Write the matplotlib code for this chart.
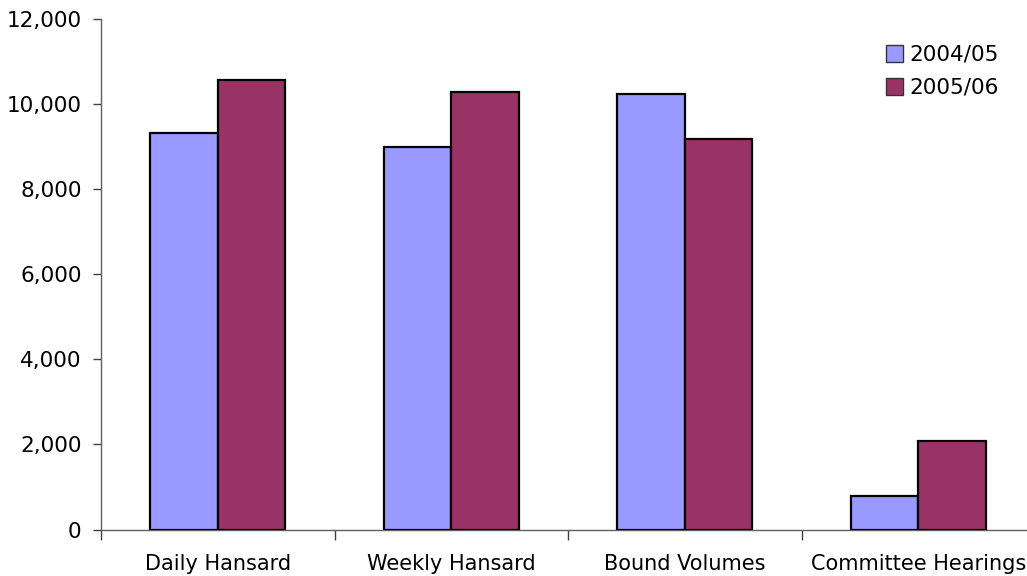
import matplotlib
matplotlib.use("Agg")
import matplotlib.pyplot as plt
import numpy as np
from matplotlib.ticker import FuncFormatter

categories = ["Daily Hansard", "Weekly Hansard", "Bound Volumes", "Committee Hearings"]
series_names = ["2004/05", "2005/06"]
values_2004_05 = [9320, 8980, 10220, 780]
values_2005_06 = [10570, 10285, 9175, 2070]
y_ticks = [0, 2000, 4000, 6000, 8000, 10000, 12000]

colors = ["#9999FF", "#993366"]

plt.rcParams["font.family"] = ["DejaVu Sans"]
W, H = 1027, 576
fig = plt.figure(figsize=(W / 100, H / 100), dpi=100)
ax = fig.add_axes([101 / W, 1 - 529.5 / H, 934 / W, (529.5 - 18.7) / H])

x = np.arange(len(categories))
bw = 0.289
for i, (vals, name, col) in enumerate(zip([values_2004_05, values_2005_06], series_names, colors)):
    ax.bar(x + (i - 0.5) * bw, vals, width=bw, color=col, edgecolor="black",
           linewidth=1.6, label=name, zorder=3)

ax.set_xlim(-0.5, len(categories) - 0.5)
ax.set_ylim(0, 12000)
ax.set_yticks(y_ticks)
ax.yaxis.set_major_formatter(FuncFormatter(lambda v, p: f"{int(v):,}"))

# category labels centred in each slot, tick marks on the slot boundaries
ax.set_xticks(x)
ax.set_xticklabels(categories, fontsize=15)
ax.set_xticks(np.arange(len(categories) + 1) - 0.5, minor=True)
ax.tick_params(axis="x", which="major", length=0, pad=18)
ax.tick_params(axis="x", which="minor", length=7, width=1, color="#404040", direction="out")
ax.tick_params(axis="y", length=6, width=1, color="#404040", direction="out", pad=8, labelsize=15.5)

for s in ["top", "right"]:
    ax.spines[s].set_visible(False)
for s in ["left", "bottom"]:
    ax.spines[s].set_color("#606060")
    ax.spines[s].set_linewidth(1)

leg = ax.legend(loc="upper left", bbox_to_anchor=(886 / W, 1 - 45 / H),
                bbox_transform=fig.transFigure, frameon=False, fontsize=15.5,
                handlelength=0.8, handleheight=0.8, handletextpad=0.3,
                labelspacing=0.6, borderpad=0, borderaxespad=0)
for p in leg.get_patches():
    p.set_linewidth(1.0)
    p.set_edgecolor("#333333")

fig.savefig("out.png", dpi=100)
